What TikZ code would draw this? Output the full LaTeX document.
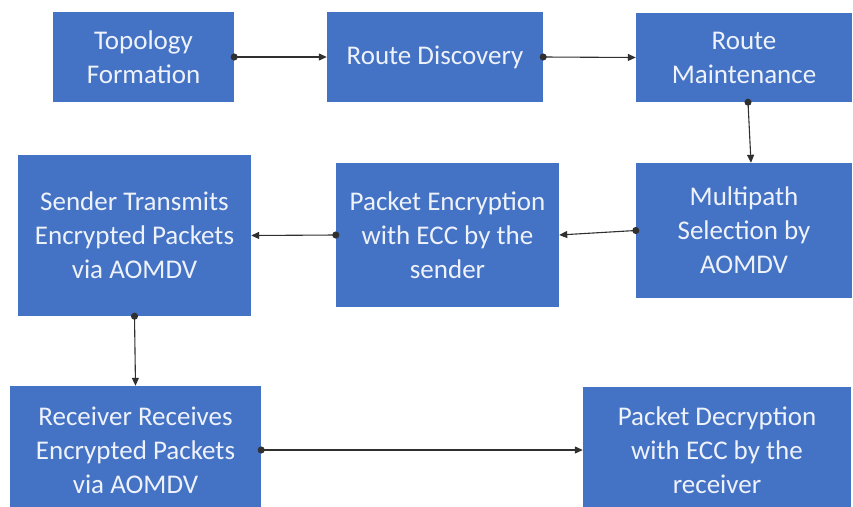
\documentclass[tikz,border=0pt]{standalone}
\usepackage{fontspec}
\setmainfont{Carlito}
\usetikzlibrary{arrows.meta}
\definecolor{boxblue}{HTML}{4472C4}
\definecolor{txtwhite}{HTML}{EEF2FA}
\definecolor{linegray}{HTML}{303030}
\begin{document}
\begin{tikzpicture}[x=1pt,y=-1pt,
  stage/.style={rectangle, fill=boxblue, draw=none, inner sep=0pt, align=center,
    text=txtwhite, font=\fontsize{27}{34}\selectfont},
  flow/.style={draw=linegray, line width=1.1pt, shorten <=-3.5pt,
    {Circle[length=7pt,width=7pt]}-{Triangle[length=8pt,width=7pt]}}]
\useasboundingbox (0,0) rectangle (853,506);
\clip (0,0) rectangle (853,506);
\node[stage, minimum width=181, minimum height=90] (tf) at (143.5,57) {Topology\\Formation};
\node[stage, minimum width=216, minimum height=90] (rd) at (435,57) {Route Discovery};
\node[stage, minimum width=216, minimum height=89] (rm) at (744,57.5) {Route\\Maintenance};
\node[stage, minimum width=216, minimum height=135] (ms) at (744,230.5) {Multipath\\Selection by\\AOMDV};
\node[stage, minimum width=223, minimum height=144] (pe) at (447.5,235) {Packet Encryption\\with ECC by the\\sender};
\node[stage, minimum width=233, minimum height=161] (st) at (134.5,235.5) {Sender Transmits\\Encrypted Packets\\via AOMDV};
\node[stage, minimum width=251, minimum height=128] (rr) at (135.5,450) {Receiver Receives\\Encrypted Packets\\via AOMDV};
\node[stage, minimum width=268, minimum height=126] (pd) at (717,450) {Packet Decryption\\with ECC by the\\receiver};
\draw[flow] (tf.east) -- (rd.west);
\draw[flow] (rd.east) -- (rm.west);
\draw[flow] ([xshift=4]rm.south) -- ([xshift=7]ms.north);
\draw[flow] (ms.west) -- (pe.east);
\draw[flow] (pe.west) -- (st.east);
\draw[flow] (st.south) -- (rr.north);
\draw[flow] (rr.east) -- (pd.west);
\end{tikzpicture}
\end{document}
